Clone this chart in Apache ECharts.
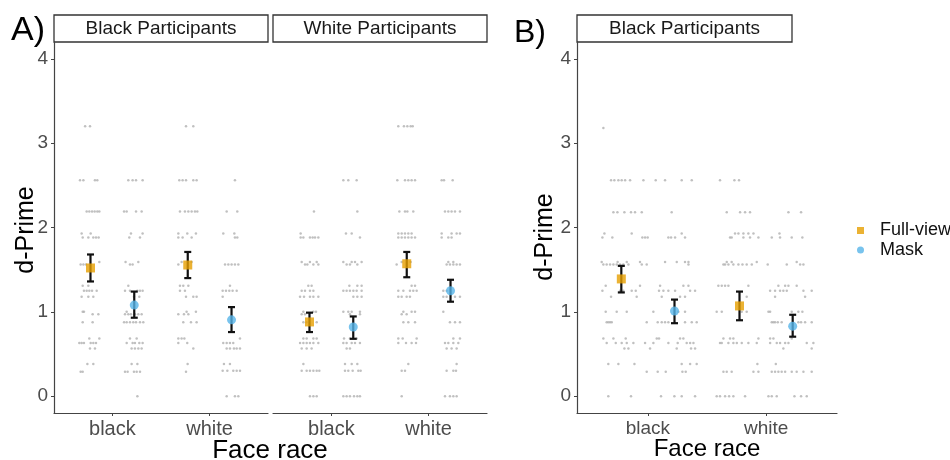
<!DOCTYPE html>
<html>
<head>
<meta charset="utf-8">
<script src="https://cdn.jsdelivr.net/npm/echarts@6/dist/echarts.min.js"></script>
<style>html,body{margin:0;padding:0;background:#fff}#chart{width:950px;height:460px}</style>
</head>
<body>
<div id="chart"></div>
<script>
// ---------- data ----------
const categories = ['black', 'white'];
const conditions = ['Full-view', 'Mask'];
const yTickValues = [0, 1, 2, 3, 4];
const panelTitles = ['Black Participants', 'White Participants', 'Black Participants'];

// means & error bars (index: black face, white face)
const meanA_BP_full = [1.52, 1.555];
const lowA_BP_full = [1.36, 1.40];
const highA_BP_full = [1.68, 1.71];
const meanA_BP_mask = [1.08, 0.905];
const lowA_BP_mask = [0.93, 0.76];
const highA_BP_mask = [1.24, 1.056];

const meanA_WP_full = [0.88, 1.57];
const lowA_WP_full = [0.76, 1.41];
const highA_WP_full = [0.99, 1.71];
const meanA_WP_mask = [0.82, 1.25];
const lowA_WP_mask = [0.68, 1.12];
const highA_WP_mask = [0.945, 1.38];

const meanB_full = [1.39, 1.07];
const lowB_full = [1.23, 0.90];
const highB_full = [1.545, 1.24];
const meanB_mask = [1.01, 0.83];
const lowB_mask = [0.865, 0.705];
const highB_mask = [1.145, 0.965];

// raw (jittered) individual scores: [d-prime, [x positions]]
const rawA_BP_black_full = [
 [3.20, [0.72, 0.77]],
 [2.56, [0.667, 0.702, 0.821, 0.845]],
 [2.19, [0.736, 0.763, 0.791, 0.818, 0.845, 0.866]],
 [1.93, [0.684, 0.777]],
 [1.88, [0.695, 0.753, 0.804, 0.832, 0.859]],
 [1.59, [0.866]],
 [1.56, [0.674, 0.702, 0.729]],
 [1.31, [0.695, 0.753]],
 [1.25, [0.708, 0.736, 0.763, 0.791, 0.839]],
 [1.18, [0.684, 0.753, 0.804]],
 [1.00, [0.695, 0.708]],
 [0.97, [0.797, 0.856]],
 [0.875, [0.695, 0.797]],
 [0.685, [0.763, 0.866]],
 [0.63, [0.66, 0.684, 0.708, 0.777, 0.804, 0.832]],
 [0.565, [0.77, 0.821]],
 [0.38, [0.743, 0.804]],
 [0.29, [0.674, 0.695]]
];
const rawA_BP_black_mask = [
 [2.56, [1.164, 1.208, 1.243, 1.311]],
 [2.19, [1.12, 1.147, 1.243, 1.301]],
 [1.93, [1.191, 1.311]],
 [1.88, [1.174, 1.284]],
 [1.59, [1.136, 1.267]],
 [1.56, [1.181, 1.208]],
 [1.31, [1.164]],
 [1.25, [1.13, 1.181, 1.257, 1.284, 1.311]],
 [1.18, [1.222, 1.277]],
 [1.00, [1.147]],
 [0.97, [1.13, 1.164, 1.191, 1.232, 1.267, 1.301]],
 [0.875, [1.12, 1.147, 1.181, 1.215, 1.243, 1.284, 1.318]],
 [0.685, [1.181, 1.25]],
 [0.63, [1.147, 1.208, 1.232, 1.277, 1.311]],
 [0.565, [1.198, 1.232, 1.267, 1.301]],
 [0.38, [1.198, 1.257]],
 [0.29, [1.13, 1.157, 1.222, 1.25, 1.284]],
 [0, [1.257]]
];
const rawA_BP_white_full = [
 [3.20, [1.757, 1.832]],
 [2.56, [1.688, 1.722, 1.757, 1.832, 1.866]],
 [2.19, [1.695, 1.746, 1.781, 1.815, 1.849, 1.873]],
 [1.93, [1.678, 1.77, 1.859]],
 [1.88, [1.678, 1.722, 1.815]],
 [1.59, [1.712, 1.815]],
 [1.56, [1.678]],
 [1.31, [1.695, 1.729, 1.781]],
 [1.25, [1.695, 1.746]],
 [1.18, [1.757, 1.832, 1.866]],
 [1.00, [1.763, 1.859]],
 [0.97, [1.678, 1.736, 1.781]],
 [0.875, [1.729, 1.808, 1.866]],
 [0.685, [1.678, 1.712, 1.74]],
 [0.63, [1.678, 1.77]],
 [0.565, [1.832]],
 [0.38, [1.774]],
 [0.29, [1.757]]
];
const rawA_BP_white_mask = [
 [2.56, [2.26]],
 [2.19, [2.175, 2.284]],
 [1.93, [2.14, 2.254]],
 [1.88, [2.26, 2.284]],
 [1.56, [2.158, 2.192, 2.226, 2.26, 2.295]],
 [1.31, [2.209]],
 [1.25, [2.134, 2.168, 2.202, 2.236, 2.278]],
 [1.18, [2.134]],
 [0.685, [2.312]],
 [0.63, [2.14, 2.175, 2.209, 2.243]],
 [0.565, [2.175, 2.209, 2.25, 2.278, 2.312]],
 [0.38, [2.147, 2.209]],
 [0.30, [2.134, 2.182, 2.243, 2.278, 2.312]],
 [0, [2.175, 2.26, 2.295]]
];

const rawA_WP_black_full = [
 [2.19, [0.821]],
 [1.93, [0.684]],
 [1.88, [0.684, 0.712, 0.78, 0.808, 0.832, 0.866]],
 [1.59, [0.695, 0.78, 0.849]],
 [1.56, [0.729, 0.753, 0.815, 0.866]],
 [1.31, [0.763, 0.797]],
 [1.25, [0.695, 0.729, 0.78, 0.815]],
 [1.18, [0.678, 0.719, 0.78, 0.815, 0.866]],
 [1.00, [0.712, 0.815, 0.842]],
 [0.97, [0.695, 0.729]],
 [0.875, [0.712, 0.746, 0.849]],
 [0.685, [0.712, 0.746, 0.815, 0.849]],
 [0.63, [0.678, 0.712, 0.746, 0.78, 0.815, 0.866]],
 [0.565, [0.695, 0.746, 0.797]],
 [0.38, [0.712]],
 [0.30, [0.695, 0.746, 0.78, 0.815, 0.849, 0.876]],
 [0, [0.78, 0.815, 0.849]]
];
const rawA_WP_black_mask = [
 [2.56, [1.123, 1.174, 1.26]],
 [2.19, [1.267]],
 [1.93, [1.15, 1.209]],
 [1.88, [1.294]],
 [1.59, [1.123, 1.209, 1.243, 1.311]],
 [1.56, [1.157, 1.191, 1.267]],
 [1.31, [1.185, 1.267, 1.311]],
 [1.25, [1.123, 1.157, 1.191, 1.226, 1.26, 1.311]],
 [1.18, [1.226, 1.267, 1.311]],
 [1.00, [1.123, 1.174, 1.209, 1.294]],
 [0.97, [1.191, 1.294]],
 [0.685, [1.13, 1.191, 1.26]],
 [0.63, [1.123, 1.157, 1.209, 1.243, 1.294]],
 [0.565, [1.157, 1.191]],
 [0.38, [1.14, 1.209, 1.267]],
 [0.30, [1.14, 1.174, 1.219, 1.277, 1.301]],
 [0, [1.123, 1.157, 1.191, 1.233, 1.267, 1.294]]
];
const rawA_WP_white_full = [
 [3.20, [1.688, 1.746, 1.781, 1.815, 1.836]],
 [2.56, [1.678, 1.757, 1.791, 1.825, 1.86]],
 [2.19, [1.699, 1.757, 1.781, 1.842]],
 [1.93, [1.688, 1.723, 1.757, 1.791, 1.825]],
 [1.88, [1.688, 1.723, 1.757, 1.791, 1.825, 1.86]],
 [1.59, [1.723, 1.815]],
 [1.56, [1.671]],
 [1.31, [1.825, 1.86]],
 [1.25, [1.688, 1.74, 1.808, 1.842, 1.877]],
 [1.18, [1.688, 1.723, 1.774, 1.808]],
 [1.00, [1.74, 1.825, 1.86]],
 [0.97, [1.723, 1.774]],
 [0.875, [1.74, 1.791, 1.86]],
 [0.685, [1.688, 1.733, 1.877]],
 [0.63, [1.688, 1.767, 1.825, 1.87]],
 [0.38, [1.791]],
 [0.30, [1.723, 1.757]],
 [0, [1.723]]
];
const rawA_WP_white_mask = [
 [2.56, [2.134, 2.158, 2.247]],
 [2.19, [2.168, 2.202, 2.236, 2.271, 2.322]],
 [1.93, [2.134, 2.236, 2.288, 2.322]],
 [1.88, [2.134, 2.202, 2.236]],
 [1.59, [2.202, 2.254]],
 [1.56, [2.185, 2.219, 2.254, 2.288, 2.322]],
 [1.25, [2.151, 2.185]],
 [1.18, [2.151, 2.185, 2.271, 2.322]],
 [1.00, [2.151]],
 [0.875, [2.219, 2.271, 2.322]],
 [0.685, [2.254, 2.322]],
 [0.63, [2.168, 2.202, 2.254, 2.305]],
 [0.565, [2.185, 2.236, 2.288]],
 [0.38, [2.288]],
 [0.30, [2.185, 2.254, 2.281]],
 [0, [2.168, 2.219, 2.254, 2.288]]
];

const rawB_black_full = [
 [3.18, [0.623]],
 [2.56, [0.688, 0.716, 0.75, 0.778, 0.807, 0.849, 0.962]],
 [2.18, [0.708, 0.742, 0.801, 0.857, 0.891, 0.948]],
 [1.93, [0.632, 0.863]],
 [1.88, [0.615, 0.699, 0.953, 0.976, 0.998]],
 [1.59, [0.609, 0.744, 0.821, 0.933]],
 [1.56, [0.623, 0.651, 0.68, 0.708, 0.736, 0.764, 0.792, 0.835, 0.948, 0.99]],
 [1.31, [0.643, 0.933]],
 [1.25, [0.615, 0.764, 0.792, 0.863, 0.897]],
 [1.18, [0.688, 0.905]],
 [1.00, [0.643, 0.736, 0.821]],
 [0.875, [0.651, 0.665, 0.68, 0.694, 0.99]],
 [0.685, [0.623, 0.708, 0.812]],
 [0.63, [0.651, 0.728, 0.778, 0.821, 0.877, 0.976]],
 [0.565, [0.801, 0.835]],
 [0.38, [0.665, 0.75, 0.886]],
 [0.29, [0.99]],
 [0, [0.665, 0.857]]
];
const rawB_black_mask = [
 [2.56, [1.066, 1.145, 1.286, 1.371]],
 [2.18, [1.201]],
 [1.93, [1.286]],
 [1.88, [1.173, 1.196, 1.23, 1.314]],
 [1.59, [1.145, 1.244, 1.314, 1.343]],
 [1.56, [1.343]],
 [1.31, [1.103, 1.3, 1.343]],
 [1.25, [1.094, 1.131, 1.173, 1.23, 1.357, 1.399]],
 [1.18, [1.117, 1.272, 1.314]],
 [1.00, [1.046, 1.258, 1.314]],
 [0.875, [1.083, 1.117, 1.145, 1.173, 1.314, 1.371, 1.413]],
 [0.685, [1.075, 1.094, 1.272, 1.3]],
 [0.63, [1.046, 1.173, 1.252, 1.328, 1.357, 1.385]],
 [0.565, [1.018, 1.244, 1.365, 1.399]],
 [0.38, [1.286, 1.357, 1.413]],
 [0.29, [1.083, 1.151, 1.292, 1.32]],
 [0, [1.111, 1.224, 1.286, 1.399]]
];
const rawB_white_full = [
 [2.56, [1.61, 1.732, 1.771]],
 [2.18, [1.667, 1.78, 1.822, 1.864]],
 [1.93, [1.737, 1.766, 1.808, 1.85, 1.893]],
 [1.88, [1.695, 1.709, 1.808, 1.864, 1.935]],
 [1.59, [1.667, 1.709, 1.921]],
 [1.56, [1.639, 1.653, 1.681, 1.723, 1.766, 1.8, 1.836, 1.879]],
 [1.31, [1.596, 1.625, 1.653, 1.681, 1.85]],
 [1.18, [1.836]],
 [1.00, [1.582, 1.625, 1.794, 1.836]],
 [0.685, [1.639, 1.695, 1.723, 1.935]],
 [0.63, [1.61, 1.625, 1.681, 1.723, 1.752, 1.794, 1.85, 1.921]],
 [0.38, [1.926]],
 [0.29, [1.639, 1.667, 1.709, 1.893, 1.935]],
 [0, [1.582, 1.61, 1.653, 1.687, 1.723, 1.822]]
];
const rawB_white_mask = [
 [2.18, [2.189, 2.296]],
 [1.93, [2.113]],
 [1.88, [2.048, 2.118, 2.217, 2.307]],
 [1.59, [2.259]],
 [1.56, [2.014, 2.175, 2.288, 2.316]],
 [1.31, [2.104, 2.161, 2.189, 2.259]],
 [1.25, [2.034, 2.076, 2.118, 2.146, 2.175, 2.316, 2.386]],
 [1.18, [2.076, 2.33]],
 [1.00, [2.02, 2.034, 2.217, 2.273, 2.307]],
 [0.875, [2.048, 2.062, 2.076, 2.099, 2.132, 2.273, 2.296, 2.33, 2.386]],
 [0.685, [2.034, 2.062, 2.217]],
 [0.63, [2.034, 2.09, 2.118, 2.161, 2.189, 2.344, 2.4]],
 [0.565, [2.146, 2.386]],
 [0.38, [2.082]],
 [0.29, [2.048, 2.076, 2.104, 2.132, 2.161, 2.217, 2.259, 2.316, 2.386]],
 [0, [2.02, 2.048, 2.09, 2.24, 2.296, 2.344]]
];

// ---------- build ----------
const FONT = '"Liberation Sans", Arial, sans-serif';
const ORANGE = '#E69F00', BLUE = '#56B4E9';
const DODGE = 0.225;

const panels = [
  {raw: [rawA_BP_black_full, rawA_BP_black_mask, rawA_BP_white_full, rawA_BP_white_mask],
   full: [meanA_BP_full, lowA_BP_full, highA_BP_full], mask: [meanA_BP_mask, lowA_BP_mask, highA_BP_mask]},
  {raw: [rawA_WP_black_full, rawA_WP_black_mask, rawA_WP_white_full, rawA_WP_white_mask],
   full: [meanA_WP_full, lowA_WP_full, highA_WP_full], mask: [meanA_WP_mask, lowA_WP_mask, highA_WP_mask]},
  {raw: [rawB_black_full, rawB_black_mask, rawB_white_full, rawB_white_mask],
   full: [meanB_full, lowB_full, highB_full], mask: [meanB_mask, lowB_mask, highB_mask]}
];

const grids = [
  {left: 54, top: 42, width: 214, height: 371},
  {left: 273, top: 42, width: 214, height: 371},
  {left: 577, top: 42, width: 260, height: 371}
];

function flattenRaw(groups) {
  const out = [];
  groups.forEach(g => g.forEach(row => row[1].forEach(x => out.push([x, row[0]]))));
  return out;
}

function errRender(params, api) {
  const x = api.value(0);
  const top = api.coord([x, api.value(2)]);
  const bot = api.coord([x, api.value(1)]);
  const w = 3.5;
  const st = {stroke: '#111', lineWidth: 2.2};
  return {type: 'group', children: [
    {type: 'line', shape: {x1: top[0], y1: top[1], x2: bot[0], y2: bot[1]}, style: st},
    {type: 'line', shape: {x1: top[0] - w, y1: top[1], x2: top[0] + w, y2: top[1]}, style: st},
    {type: 'line', shape: {x1: bot[0] - w, y1: bot[1], x2: bot[0] + w, y2: bot[1]}, style: st}
  ]};
}

const xAxes = [], yAxes = [], series = [];
panels.forEach((p, i) => {
  const xLabelSize = i === 2 ? 19 : 20;
  xAxes.push({
    type: 'value', gridIndex: i, min: 0.4, max: 2.6,
    axisLine: {show: true, onZero: false, lineStyle: {color: '#444', width: 1.2}},
    axisTick: {show: true, length: 3, customValues: [1, 2], lineStyle: {color: '#444'}},
    axisLabel: {customValues: [1, 2], formatter: v => categories[Math.round(v) - 1],
      fontSize: xLabelSize, color: '#4d4d4d', margin: 6, fontFamily: FONT},
    splitLine: {show: false}
  });
  const showY = i !== 1;
  yAxes.push({
    type: 'value', gridIndex: i, min: -0.2, max: 4.2,
    axisLine: {show: showY, onZero: false, lineStyle: {color: '#444', width: 1.2}},
    axisTick: {show: showY, length: 3, customValues: yTickValues, lineStyle: {color: '#444'}},
    axisLabel: {show: showY, customValues: yTickValues, fontSize: 19, color: '#4d4d4d', margin: 6, fontFamily: FONT},
    splitLine: {show: false}
  });
  series.push({
    type: 'scatter', xAxisIndex: i, yAxisIndex: i, silent: true,
    symbol: 'circle', symbolSize: 2.5, itemStyle: {color: '#b0b0b0'},
    data: flattenRaw(p.raw), z: 1
  });
  [['full', -DODGE, conditions[0], 'rect', ORANGE], ['mask', DODGE, conditions[1], 'circle', BLUE]].forEach(c => {
    const arr = p[c[0]];
    const errData = categories.map((_, k) => [k + 1 + c[1], arr[1][k], arr[2][k]]);
    const meanData = categories.map((_, k) => [k + 1 + c[1], arr[0][k]]);
    series.push({
      type: 'custom', xAxisIndex: i, yAxisIndex: i, silent: true,
      renderItem: errRender, encode: {x: 0, y: [1, 2]}, data: errData, z: 3
    });
    series.push({
      type: 'scatter', name: c[2], xAxisIndex: i, yAxisIndex: i, silent: true,
      symbol: c[3], symbolSize: 9, itemStyle: {color: c[4]}, data: meanData, z: 4
    });
  });
});

function strip(x, w, label) {
  return [
    {type: 'rect', shape: {x: x, y: 15, width: w, height: 27}, style: {fill: '#fff', stroke: '#333', lineWidth: 1.3}},
    {type: 'text', x: x + w / 2, y: 29, style: {text: label, fontSize: 19, fontFamily: FONT, fill: '#1a1a1a', align: 'center', verticalAlign: 'middle'}}
  ];
}

const graphics = [].concat(
  strip(54, 214, panelTitles[0]),
  strip(273, 214, panelTitles[1]),
  strip(577, 215, panelTitles[2]),
  [
    {type: 'text', x: 11, y: 31, style: {text: 'A)', fontSize: 34, fontFamily: FONT, fill: '#000', align: 'left', verticalAlign: 'middle'}},
    {type: 'text', x: 514, y: 33, style: {text: 'B)', fontSize: 32, fontFamily: FONT, fill: '#000', align: 'left', verticalAlign: 'middle'}},
    {type: 'text', x: 270, y: 451, style: {text: 'Face race', fontSize: 26, fontFamily: FONT, fill: '#000', align: 'center', verticalAlign: 'middle'}},
    {type: 'text', x: 707, y: 449, style: {text: 'Face race', fontSize: 24, fontFamily: FONT, fill: '#000', align: 'center', verticalAlign: 'middle'}},
    {type: 'text', x: 26, y: 230, rotation: Math.PI / 2, style: {text: 'd-Prime', fontSize: 25, fontFamily: FONT, fill: '#000', align: 'center', verticalAlign: 'middle'}},
    {type: 'text', x: 545, y: 237, rotation: Math.PI / 2, style: {text: 'd-Prime', fontSize: 25, fontFamily: FONT, fill: '#000', align: 'center', verticalAlign: 'middle'}}
  ]
);

const chart = echarts.init(document.getElementById('chart'), null, {renderer: 'canvas'});
chart.setOption({
  animation: false,
  backgroundColor: '#fff',
  textStyle: {fontFamily: FONT},
  grid: grids,
  xAxis: xAxes,
  yAxis: yAxes,
  legend: {
    orient: 'vertical', left: 852, top: 216, selectedMode: false,
    itemWidth: 7, itemHeight: 7, itemGap: 0.5,
    data: [{name: conditions[0], icon: 'rect'}, {name: conditions[1], icon: 'circle'}],
    textStyle: {fontSize: 18, color: '#111', lineHeight: 19, padding: [0, 0, 0, 11], fontFamily: FONT}
  },
  graphic: graphics,
  series: series
});
</script>
</body>
</html>
